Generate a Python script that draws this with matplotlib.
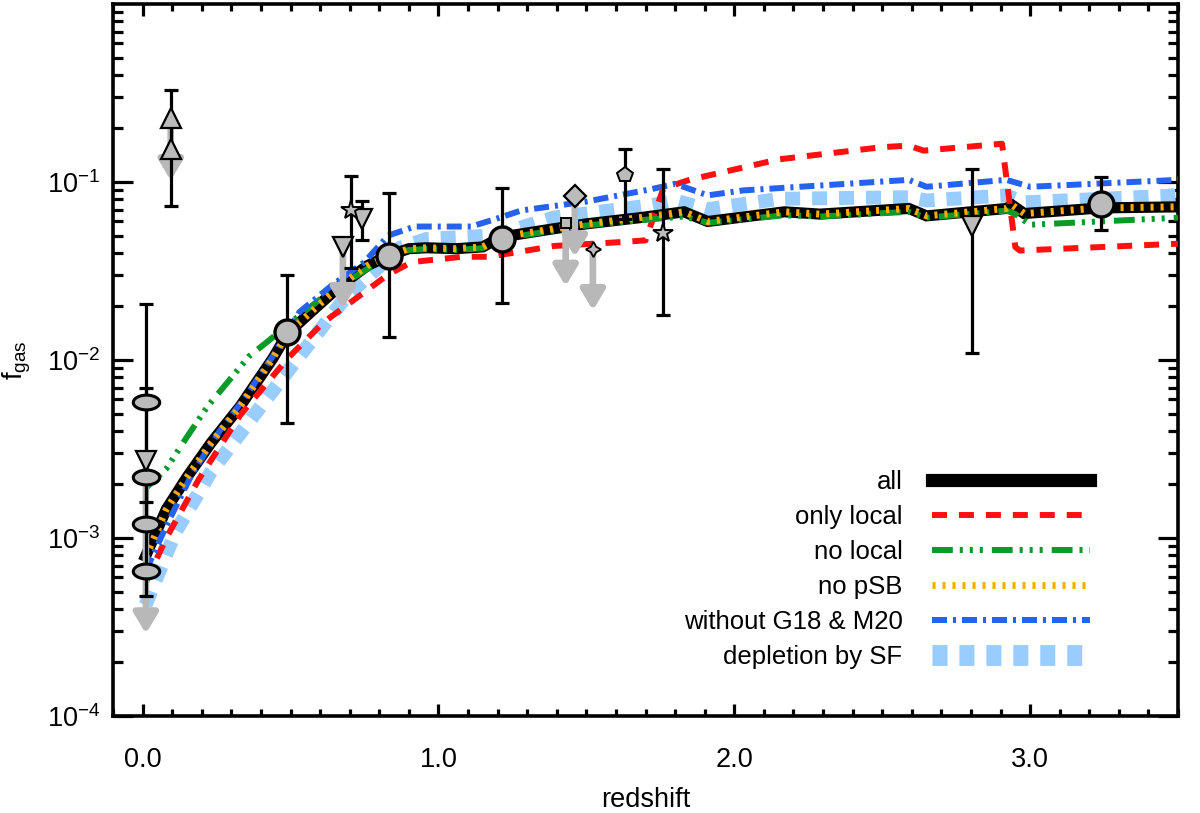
import numpy as np
import matplotlib
matplotlib.use('Agg')
import matplotlib.pyplot as plt
import matplotlib.ticker as mticker
from matplotlib.path import Path
from matplotlib.lines import Line2D

plt.rcParams['font.family'] = ['Liberation Sans', 'DejaVu Sans']
plt.rcParams['mathtext.fontset'] = 'custom'
plt.rcParams['mathtext.rm'] = 'Liberation Sans'
plt.rcParams['mathtext.it'] = 'Liberation Sans:italic'
plt.rcParams['mathtext.bf'] = 'Liberation Sans:bold'
plt.rcParams['lines.scale_dashes'] = False

# ---------------- model curves ----------------
z_all = [0.01, 0.08, 0.15, 0.23, 0.33, 0.44, 0.49, 0.59, 0.67, 0.76, 0.83, 0.90, 0.96, 1.06, 1.15,
         1.21, 1.38, 1.50, 1.68, 1.83, 1.91, 2.17, 2.29, 2.59, 2.65, 2.92, 2.94, 2.98, 3.24, 3.50]
f_all = [7.9e-4, 1.45e-3, 2.2e-3, 3.4e-3, 5.5e-3, 0.0102, 0.0141, 0.0200, 0.0263, 0.0339, 0.0385,
         0.0422, 0.0427, 0.0422, 0.0432, 0.0490, 0.0543, 0.0582, 0.0630, 0.0680, 0.0600, 0.0680,
         0.0660, 0.0710, 0.0645, 0.0710, 0.0740, 0.0665, 0.0715, 0.0725]

z_only_local = [0.01, 0.08, 0.19, 0.33, 0.49, 0.61, 0.74, 0.83, 0.91, 1.08, 1.17, 1.28, 1.39, 1.62,
                1.70, 1.76, 1.85, 2.15, 2.50, 2.59, 2.64, 2.905, 2.95, 2.965, 3.50]
f_only_local = [5.6e-4, 1.0e-3, 2.14e-3, 4.9e-3, 0.0102, 0.0162, 0.0234, 0.0302, 0.0355, 0.038,
                0.038, 0.0407, 0.0437, 0.046, 0.047, 0.092, 0.103, 0.134, 0.157, 0.160, 0.150,
                0.164, 0.0431, 0.0412, 0.0450]

z_no_local = [0.01, 0.08, 0.15, 0.22, 0.36, 0.42, 0.53, 0.63, 0.74, 0.83, 0.90, 0.96, 1.06, 1.15,
              1.21, 1.38, 1.50, 1.68, 1.83, 1.91, 2.17, 2.29, 2.59, 2.65, 2.92, 2.95, 3.00, 3.50]
f_no_local = [1.9e-3, 2.45e-3, 3.7e-3, 5.5e-3, 0.0105, 0.0126, 0.0178, 0.024, 0.031, 0.0385, 0.0415,
              0.042, 0.0415, 0.0425, 0.048, 0.053, 0.057, 0.061, 0.064, 0.059, 0.065, 0.064, 0.068,
              0.063, 0.069, 0.066, 0.0575, 0.063]

z_no_psb = [0.01, 0.08, 0.15, 0.23, 0.33, 0.44, 0.49, 0.59, 0.67, 0.76, 0.83, 0.90, 0.96, 1.06, 1.15,
            1.21, 1.38, 1.50, 1.68, 1.83, 1.91, 2.17, 2.29, 2.59, 2.65, 2.92, 2.94, 2.98, 3.24, 3.50]
f_no_psb = [7.8e-4, 1.45e-3, 2.2e-3, 3.4e-3, 5.5e-3, 0.0102, 0.0141, 0.0200, 0.0263, 0.0339, 0.0385,
            0.0422, 0.0427, 0.0422, 0.0432, 0.0490, 0.0543, 0.0582, 0.0630, 0.0680, 0.0600, 0.0680,
            0.0660, 0.0710, 0.0645, 0.0710, 0.0740, 0.0665, 0.0715, 0.0725]

z_no_g18 = [0.01, 0.08, 0.17, 0.26, 0.35, 0.44, 0.53, 0.64, 0.75, 0.83, 0.92, 1.11, 1.19, 1.28, 1.50,
            1.72, 1.80, 1.91, 2.03, 2.59, 2.65, 2.92, 3.00, 3.50]
f_no_g18 = [6.5e-4, 1.17e-3, 2.34e-3, 3.98e-3, 6.3e-3, 0.0105, 0.0186, 0.0263, 0.0355, 0.050, 0.0562,
            0.0562, 0.0617, 0.0692, 0.0776, 0.0912, 0.0977, 0.0841, 0.0897, 0.1028, 0.094, 0.1028,
            0.094, 0.1028]

z_depl = [0.01, 0.11, 0.23, 0.40, 0.53, 0.69, 0.87, 0.96, 1.19, 1.39, 1.72, 1.80, 1.91, 2.15, 2.59,
          2.65, 2.92, 2.98, 3.50]
f_depl = [4.2e-4, 1.07e-3, 2.34e-3, 5.5e-3, 0.0105, 0.0229, 0.0427, 0.0479, 0.0501, 0.0631, 0.0741,
          0.0787, 0.0703, 0.0804, 0.0822, 0.0787, 0.0841, 0.0769, 0.0841]

labels = ['all', 'only local', 'no local', 'no pSB', 'without G18 & M20', 'depletion by SF']

# ---------------- observations ----------------
# binned averages (big circles)
z_bin = [0.488, 0.832, 1.214, 3.238]
f_bin = [0.0143, 0.0385, 0.048, 0.0752]
lo_bin = [0.0044, 0.0135, 0.021, 0.0538]
hi_bin = [0.030, 0.087, 0.092, 0.107]

# local sample (ellipses)
z_loc = [0.011, 0.011, 0.011, 0.011]
f_loc = [5.8e-3, 2.2e-3, 1.2e-3, 6.5e-4]
lo_loc = [1.6e-3, 2.2e-3, 1.2e-3, 4.7e-4]
hi_loc = [0.0206, 2.2e-3, 1.2e-3, 7.0e-3]

# individual measurements with error bars
z_upt = [0.095, 0.095]
f_upt = [0.23, 0.153]
lo_upt = [0.23, 0.073]
hi_upt = [0.23, 0.33]

z_star = [0.704, 1.758]
f_star = [0.070, 0.0515]
lo_star = [0.033, 0.018]
hi_star = [0.108, 0.119]

z_dnt = [0.741, 2.805]
f_dnt = [0.062, 0.0564]
lo_dnt = [0.047, 0.0109]
hi_dnt = [0.078, 0.119]

z_pent = [1.63]
f_pent = [0.109]
lo_pent = [0.062]
hi_pent = [0.153]

# upper limits (value, arrow tip)
z_lim_dnt = [0.011, 0.677]
f_lim_dnt = [2.7e-3, 0.043]
tip_lim_dnt = [2.9e-4, 0.0195]
z_sq = [1.43]
f_sq = [0.059]
tip_sq = [0.026]
z_dia = [1.461]
f_dia = [0.083]
tip_dia = [0.038]
z_4s = [1.522]
f_4s = [0.042]
tip_4s = [0.019]
z_uplim = [0.095]
f_uplim = [0.22]
tip_uplim = [0.102]

# ---------------- figure ----------------
fig = plt.figure(figsize=(12, 8.13), dpi=100)
ax = fig.add_axes([0.0942, 0.1193, 0.8875, 0.8758])

GRAY = '#bbbbbb'
ARROW = '#b8b8b8'

ax.plot(z_depl, f_depl, color='#99ccff', lw=10, dashes=(10.8, 8.6), zorder=2)
ax.plot(z_all, f_all, color='black', lw=8, solid_joinstyle='miter', zorder=3)
ax.plot(z_only_local, f_only_local, color='#ff1010', lw=4.3, dashes=(10.8, 8.6), zorder=3.2)
ax.plot(z_no_local, f_no_local, color='#0a9a28', lw=4.3,
        dashes=(15, 5, 2.2, 5, 2.2, 5, 2.2, 6.5), zorder=3.4)
ax.plot(z_no_g18, f_no_g18, color='#2563ee', lw=4.3, dashes=(10.8, 4.3, 2.2, 4.3), zorder=3.5)
ax.plot(z_no_psb, f_no_psb, color='#ffaa00', lw=5, dashes=(2.2, 5.0), zorder=3.6)

# upper-limit arrows
arrow_style = '-|>,head_length=0.6,head_width=0.36'
for zs, fs, ts in [(z_lim_dnt, f_lim_dnt, tip_lim_dnt), (z_sq, f_sq, tip_sq),
                   (z_dia, f_dia, tip_dia), (z_4s, f_4s, tip_4s), (z_uplim, f_uplim, tip_uplim)]:
    for zz, ff, tt in zip(zs, fs, ts):
        ax.annotate('', xy=(zz, tt), xytext=(zz, ff),
                    arrowprops=dict(arrowstyle=arrow_style, color=ARROW, lw=4.8,
                                    mutation_scale=20, shrinkA=0, shrinkB=0),
                    zorder=4)

# error bars
def ebar(z, f, lo, hi):
    f = np.array(f); lo = np.array(lo); hi = np.array(hi)
    ax.errorbar(z, f, yerr=[f - lo, hi - f], fmt='none', ecolor='black', elinewidth=2.3,
                capsize=5, capthick=2.3, zorder=5)

ebar(z_bin, f_bin, lo_bin, hi_bin)
ebar(z_loc, f_loc, lo_loc, hi_loc)
ebar(z_upt[1:], f_upt[1:], lo_upt[1:], hi_upt[1:])
ebar(z_star, f_star, lo_star, hi_star)
ebar(z_dnt, f_dnt, lo_dnt, hi_dnt)
ebar(z_pent, f_pent, lo_pent, hi_pent)

# markers
theta = np.linspace(0, 2 * np.pi, 73)
ellipse = Path(np.column_stack([np.cos(theta), 0.56 * np.sin(theta)]), closed=True)
mk = dict(linestyle='none', markerfacecolor=GRAY, markeredgecolor='black', zorder=6)
ax.plot(z_loc, f_loc, marker=ellipse, markersize=19, markeredgewidth=2.2, **mk)
ax.plot(z_bin, f_bin, marker='o', markersize=18, markeredgewidth=2.4, **mk)
ax.plot(z_upt, f_upt, marker='^', markersize=15, markeredgewidth=1.6, **mk)
ax.plot(z_lim_dnt, f_lim_dnt, marker='v', markersize=14.5, markeredgewidth=1.6, **mk)
ax.plot(z_dnt, f_dnt, marker='v', markersize=14.5, markeredgewidth=1.6, **mk)
ax.plot(z_star, f_star, marker='*', markersize=15, markeredgewidth=1.4, **mk)
ax.plot(z_sq, f_sq, marker='s', markersize=7.5, markeredgewidth=1.4, **mk)
ax.plot(z_dia, f_dia, marker='D', markersize=11.5, markeredgewidth=1.6, **mk)
ax.plot(z_4s, f_4s, marker=(4, 1, 0), markersize=11, markeredgewidth=1.3, **mk)
ax.plot(z_pent, f_pent, marker='p', markersize=11.5, markeredgewidth=1.4, **mk)

# axes
ax.set_xlim(-0.1, 3.5)
ax.set_ylim(1e-4, 1.0)
ax.set_yscale('log')
ax.set_xticks([0.0, 1.0, 2.0, 3.0])
ax.set_xticklabels(['0.0', '1.0', '2.0', '3.0'])
ax.xaxis.set_minor_locator(mticker.MultipleLocator(0.1))
ax.set_yticks([1e-4, 1e-3, 1e-2, 1e-1])
ax.yaxis.set_major_formatter(mticker.LogFormatterSciNotation())
ax.yaxis.set_minor_locator(mticker.LogLocator(base=10, subs=np.arange(2, 10)))
ax.yaxis.set_minor_formatter(mticker.NullFormatter())

for s in ax.spines.values():
    s.set_linewidth(2.6)
ax.tick_params(axis='y', which='major', direction='in', length=14.5, width=2.3,
               left=True, right=True, pad=9, labelsize=19.5)
ax.tick_params(axis='y', which='minor', direction='in', length=7.5, width=2.3,
               left=True, right=True)
ax.tick_params(axis='x', which='major', direction='in', length=8.6, width=2.3,
               bottom=True, top=True, pad=22, labelsize=19.5)
ax.tick_params(axis='x', which='minor', direction='in', length=5, width=2.3,
               bottom=True, top=True)

ax.set_xlabel('redshift', fontsize=19.5)
ax.xaxis.set_label_coords(0.5, -0.100)
ax.set_ylabel(r'f$_\mathregular{gas}$', fontsize=19.5)
ax.yaxis.set_label_coords(-0.075, 0.5)

# legend
handles = [Line2D([], [], color='black', lw=9.5),
           Line2D([], [], color='#ff1010', lw=4.3, dashes=(10.8, 8.6)),
           Line2D([], [], color='#0a9a28', lw=4.3, dashes=(15, 5, 2.2, 5, 2.2, 5, 2.2, 6.5)),
           Line2D([], [], color='#ffaa00', lw=5, dashes=(2.2, 5.0)),
           Line2D([], [], color='#2563ee', lw=4.3, dashes=(10.8, 4.3, 2.2, 4.3)),
           Line2D([], [], color='#99ccff', lw=15, dashes=(10.8, 8.6))]
ax.legend(handles, labels, loc='lower right', bbox_to_anchor=(0.917, 0.066), frameon=False,
          markerfirst=False, fontsize=18.5, handlelength=6.15, handletextpad=1.13,
          labelspacing=0.43, borderpad=0, borderaxespad=0)

fig.savefig('out.png', dpi=100)
